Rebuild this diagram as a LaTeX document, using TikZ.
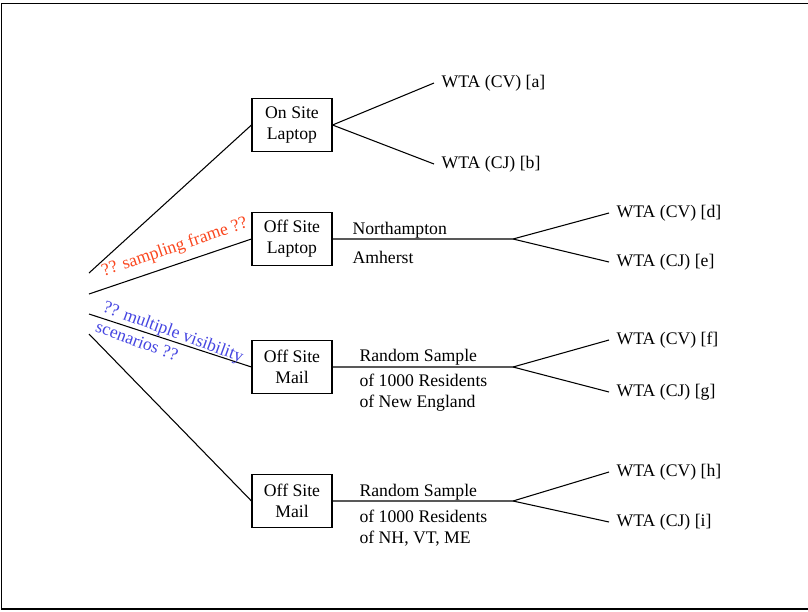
\documentclass[tikz,border=0pt]{standalone}
\usepackage{fontspec}
\setmainfont{Liberation Serif}
\usepackage{tikz}
\definecolor{framered}{RGB}{250,70,30}
\definecolor{visblue}{RGB}{70,70,225}
\tikzset{
every picture/.style={line width=0.6pt}, % thin lines everywhere
modebox/.style={draw, align=center, minimum width=45.2pt, minimum height=30pt, inner sep=1pt}, % the survey mode boxes
wta/.style={anchor=west, inner sep=4pt}, % the WTA leaves on the right
place/.style={anchor=west, inner sep=0pt, align=left}, % text along the sample lines
}

\begin{document}
\begin{tikzpicture}[x=0.565pt, y=-0.565pt]
\useasboundingbox (0,0) rectangle (808,611);
\draw[line width=0.8pt] (808,3.5) -- (1.5,3.5) -- (1.5,609) -- (808,609);
\node[modebox] (onlap) at (292,125) {On Site\\Laptop};
\node[modebox] (offlap) at (292,239) {Off Site\\Laptop};
\node[modebox] (offmailne) at (292,367) {Off Site\\Mail};
\node[modebox] (offmailnh) at (292,501) {Off Site\\Mail};
\coordinate (s1) at (89,273);
\coordinate (s2) at (89,294);
\coordinate (s3) at (89,314);
\coordinate (s4) at (89,334);
\draw (s1) -- (onlap.west);
\draw (s2) -- node[pos=0.56, sloped, above, text=framered, yshift=1pt] {?? sampling frame ??} (offlap.west);
\draw (s3) -- node[pos=0.5, sloped, rotate=-2, align=left, text=visblue, yshift=-0.5pt] {?? multiple visibility\\scenarios ??} (offmailne.west);
\draw (s4) -- (offmailnh.west);
\node[wta] (wa) at (434,83) {WTA (CV) [a]};
\node[wta] (wb) at (434,164) {WTA (CJ) [b]};
\draw (onlap.east) -- (wa.west);
\draw (onlap.east) -- (wb.west);
\coordinate (br2) at (513,239);
\node[wta] (wd) at (609,213) {WTA (CV) [d]};
\node[wta] (we) at (609,262) {WTA (CJ) [e]};
\draw (offlap.east) -- (br2) -- (wd.west);
\draw (br2) -- (we.west);
\node[place] (north) at (352,230) {Northampton};
\node[place] (amh) at (352,257) {Amherst};
\coordinate (br3) at (513,367);
\node[wta] (wf) at (609,340) {WTA (CV) [f]};
\node[wta] (wg) at (609,392) {WTA (CJ) [g]};
\draw (offmailne.east) -- (br3) -- (wf.west);
\draw (br3) -- (wg.west);
\node[place] (randne) at (359,357) {Random Sample};
\node[place] (resne) at (359,393) {of 1000 Residents\\of New England};
\coordinate (br4) at (513,501);
\node[wta] (wh) at (609,472) {WTA (CV) [h]};
\node[wta] (wi) at (609,522) {WTA (CJ) [i]};
\draw (offmailnh.east) -- (br4) -- (wh.west);
\draw (br4) -- (wi.west);
\node[place] (randnh) at (359,492) {Random Sample};
\node[place] (resnh) at (359,528) {of 1000 Residents\\of NH, VT, ME};
\end{tikzpicture}
\end{document}
